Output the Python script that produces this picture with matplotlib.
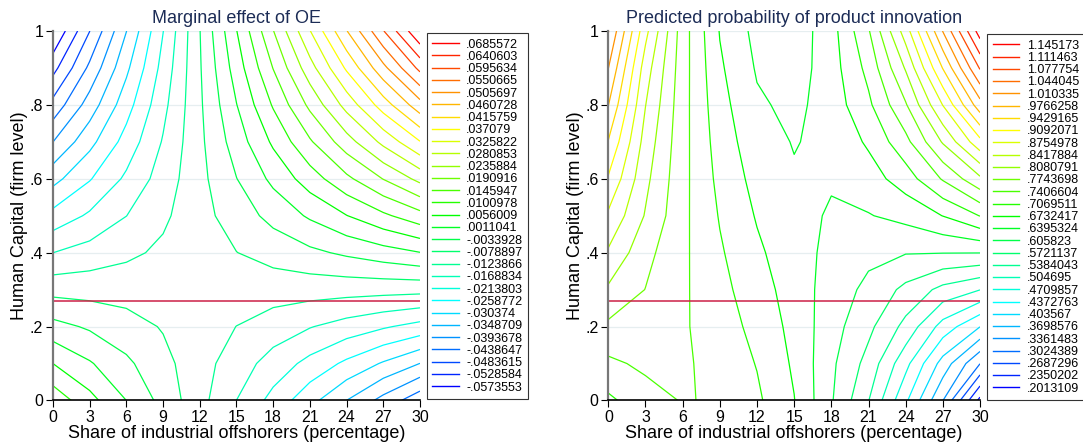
import colorsys
import numpy as np
import matplotlib
matplotlib.use("Agg")
from matplotlib import pyplot as plt
from matplotlib.lines import Line2D

plt.rcParams['font.family'] = ['Liberation Sans', 'DejaVu Sans']

# grid the contour lines were drawn on
share = [0, 3, 6, 9, 12, 15, 18, 21, 24, 27, 30]
hcap = [0, .1, .2, .3, .4, .5, .6, .7, .8, .9, 1]

# marginal effect of OE, one row per hcap value
me_oe = [
    [0.0131, 0.0071, 0.0011, -0.0049, -0.0109, -0.0169, -0.0229, -0.0289, -0.0349, -0.0409, -0.0469],
    [0.0056, 0.00155, -0.00251, -0.00656, -0.01061, -0.01467, -0.01872, -0.02277, -0.02682, -0.03088, -0.03493],
    [-0.0019, -0.00401, -0.00611, -0.00822, -0.01032, -0.01243, -0.01454, -0.01664, -0.01875, -0.02085, -0.02296],
    [-0.0094, -0.00956, -0.00972, -0.00988, -0.01004, -0.0102, -0.01035, -0.01051, -0.01067, -0.01083, -0.01099],
    [-0.0169, -0.01511, -0.01332, -0.01154, -0.00975, -0.00796, -0.00617, -0.00438, -0.0026, -0.00081, 0.00098],
    [-0.0244, -0.02067, -0.01693, -0.0132, -0.00946, -0.00573, -0.00199, 0.00175, 0.00548, 0.00922, 0.01295],
    [-0.0319, -0.02622, -0.02054, -0.01485, -0.00917, -0.00349, 0.00219, 0.00787, 0.01356, 0.01924, 0.02492],
    [-0.0394, -0.03177, -0.02414, -0.01651, -0.00888, -0.00126, 0.00637, 0.014, 0.02163, 0.02926, 0.03689],
    [-0.0469, -0.03732, -0.02775, -0.01817, -0.0086, 0.00098, 0.01056, 0.02013, 0.02971, 0.03928, 0.04886],
    [-0.0544, -0.04288, -0.03135, -0.01983, -0.00831, 0.00322, 0.01474, 0.02626, 0.03778, 0.04931, 0.06083],
    [-0.0619, -0.04843, -0.03496, -0.02149, -0.00802, 0.00545, 0.01892, 0.03239, 0.04586, 0.05933, 0.0728],
]

me_levels = [-.0573553, -.0528584, -.0483615, -.0438647, -.0393678, -.0348709,
             -.030374, -.0258772, -.0213803, -.0168834, -.0123866, -.0078897,
             -.0033928, .0011041, .0056009, .0100978, .0145947, .0190916,
             .0235884, .0280853, .0325822, .037079, .0415759, .0460728,
             .0505697, .0550665, .0595634, .0640603, .0685572]

# predicted probability of product innovation, same grid
prob = [
    [0.7002, 0.7268, 0.7427, 0.7370, 0.7130, 0.6743, 0.6092, 0.5394, 0.4433, 0.3368, 0.1912],
    [0.7339, 0.7474, 0.7450, 0.7305, 0.7053, 0.6682, 0.6126, 0.5603, 0.4811, 0.3901, 0.3031],
    [0.7676, 0.7609, 0.7447, 0.7238, 0.6965, 0.6631, 0.6193, 0.5805, 0.5283, 0.4575, 0.4042],
    [0.8030, 0.7737, 0.7461, 0.7171, 0.6881, 0.6581, 0.6244, 0.5974, 0.5637, 0.5283, 0.5054],
    [0.8374, 0.7845, 0.7474, 0.7110, 0.6793, 0.6530, 0.6311, 0.6142, 0.6075, 0.6068, 0.6065],
    [0.8698, 0.8054, 0.7488, 0.7046, 0.6705, 0.6480, 0.6368, 0.6378, 0.6496, 0.6739, 0.7080],
    [0.9058, 0.8165, 0.7504, 0.6978, 0.6618, 0.6429, 0.6419, 0.6581, 0.6901, 0.7440, 0.8013],
    [0.9412, 0.8283, 0.7518, 0.6914, 0.6530, 0.6378, 0.6480, 0.6783, 0.7305, 0.8115, 0.8991],
    [0.9776, 0.8425, 0.7531, 0.6850, 0.6446, 0.6311, 0.6547, 0.7002, 0.7710, 0.8765, 0.9968],
    [1.0110, 0.8586, 0.7548, 0.6783, 0.6362, 0.6227, 0.6581, 0.7171, 0.8115, 0.9446, 1.0811],
    [1.0457, 0.8856, 0.7562, 0.6715, 0.6294, 0.6193, 0.6598, 0.7373, 0.8586, 1.0117, 1.1620],
]

prob_levels = [.2013109, .2350202, .2687296, .3024389, .3361483, .3698576,
               .403567, .4372763, .4709857, .504695, .5384043, .5721137,
               .605823, .6395324, .6732417, .7069511, .7406604, .7743698,
               .8080791, .8417884, .8754978, .9092071, .9429165, .9766258,
               1.010335, 1.044045, 1.077754, 1.111463, 1.145173]

share_ticks = [0, 3, 6, 9, 12, 15, 18, 21, 24, 27, 30]
hc_ticks = [0, .2, .4, .6, .8, 1]
hc_ticklabels = ['0', '.2', '.4', '.6', '.8', '1']
mean_hc = 0.27

titles = ['Marginal effect of OE', 'Predicted probability of product innovation']
xtitle = 'Share of industrial offshorers (percentage)'
ytitle = 'Human Capital (firm level)'


def stata_fmt(v):
    s = f"{v:.7g}"
    if s.startswith("-0."):
        return "-" + s[2:]
    if s.startswith("0."):
        return s[1:]
    return s


fig = plt.figure(figsize=(10.83, 4.44), dpi=100)
axes_rects = [[0.0489, 0.098, 0.3389, 0.8322], [0.5617, 0.098, 0.3432, 0.8322]]
legend_anchor = [(0.3940, 0.9257), (0.9116, 0.9234)]

for i, (z, levels) in enumerate([(me_oe, me_levels), (prob, prob_levels)]):
    ax = fig.add_axes(axes_rects[i])
    n = len(levels)
    cols = [colorsys.hsv_to_rgb(2 / 3 * (1 - k / (n - 1)), 1, 1) for k in range(n)]
    ax.contour(share, hcap, np.array(z), levels=levels, colors=cols, linewidths=0.9)
    ax.axhline(mean_hc, color='#cc1f47', lw=1.1)

    ax.set_xlim(0, 30)
    ax.set_ylim(0, 1)
    ax.set_xticks(share_ticks)
    ax.set_yticks(hc_ticks)
    ax.set_yticklabels(hc_ticklabels)
    ax.yaxis.grid(True, color='#e6eef0', lw=0.9)
    ax.set_axisbelow(True)
    ax.tick_params(direction='out', length=5, labelsize=11.5, colors='black', pad=2)
    for side in ['top', 'right']:
        ax.spines[side].set_visible(False)
    ax.spines['left'].set_color('#777777')
    ax.spines['left'].set_linewidth(1.6)
    ax.spines['bottom'].set_linewidth(1.2)

    ax.set_title(titles[i], fontsize=13, color='#1c2c56', pad=6)
    ax.set_xlabel(xtitle, fontsize=13, labelpad=0)
    ax.set_ylabel(ytitle, fontsize=13, labelpad=1)

    handles = [Line2D([], [], color=c, lw=1) for c in reversed(cols)]
    labels = [stata_fmt(v) for v in reversed(levels)]
    leg = fig.legend(handles, labels, loc='upper left', bbox_to_anchor=legend_anchor[i],
                     fontsize=9, labelspacing=0.02, handlelength=2.1,
                     handletextpad=0.6, borderpad=0.45, borderaxespad=0,
                     fancybox=False, edgecolor='#333333', framealpha=1)
    leg.get_frame().set_linewidth(0.8)

fig.savefig('out.png', dpi=100)
